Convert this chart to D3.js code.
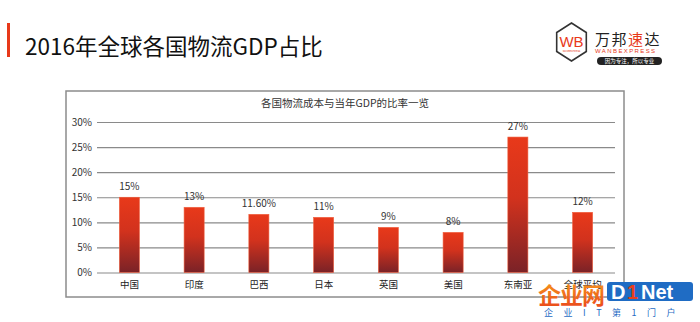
<!DOCTYPE html>
<html><head><meta charset="utf-8">
<script src="https://cdn.jsdelivr.net/npm/d3@7"></script>
<style>body{margin:0;background:#fff;}svg{display:block;font-family:"Noto Sans CJK SC","Noto Sans",sans-serif;}</style>
</head><body>
<svg id="c" width="700" height="322"></svg>
<script>
const categories = ["中国","印度","巴西","日本","英国","美国","东南亚","全球平均"];
const values = [15,13,11.6,11,9,8,27,12];
const valueLabels = ["15%","13%","11.60%","11%","9%","8%","27%","12%"];
const yTicks = [0,5,10,15,20,25,30];
const tickLabels = ["0%","5%","10%","15%","20%","25%","30%"];

const svg = d3.select("#c");
const defs = svg.append("defs");
const g1 = defs.append("linearGradient").attr("id","bar").attr("x1",0).attr("y1",0).attr("x2",0).attr("y2",1);
g1.append("stop").attr("offset","0%").attr("stop-color","#e8391a");
g1.append("stop").attr("offset","45%").attr("stop-color","#d2321d");
g1.append("stop").attr("offset","100%").attr("stop-color","#7a2227");
const g2 = defs.append("linearGradient").attr("id","wm").attr("x1",0).attr("y1",0).attr("x2",0).attr("y2",1);
g2.append("stop").attr("offset","0%").attr("stop-color","#f7a21b");
g2.append("stop").attr("offset","100%").attr("stop-color","#e9401c");

// header
svg.append("rect").attr("x",7).attr("y",23).attr("width",3).attr("height",34).attr("fill","#e8391a");
svg.append("text").attr("x",25).attr("y",55).attr("font-size",22.5).attr("fill","#111").text("2016年全球各国物流GDP占比");

// logo
const hx=571.5, hy=42, hr=19;
const hex = d3.range(6).map(i=>{const a=Math.PI/6+i*Math.PI/3;return [hx+hr*Math.cos(a)*0.9, hy+hr*Math.sin(a)];});
svg.append("polygon").attr("points",hex.map(p=>p.join(",")).join(" ")).attr("fill","#fff").attr("stroke","#333").attr("stroke-width",1.6);
svg.append("text").attr("x",hx).attr("y",hy+5).attr("text-anchor","middle").attr("font-size",15).attr("fill","#e8391a").attr("font-family","Liberation Sans").text("WB");
svg.append("text").attr("x",hx).attr("y",hy+10).attr("text-anchor","middle").attr("font-size",2.5).attr("fill","#e8391a").text("WANBEXPRESS");
const lt = svg.append("text").attr("x",595).attr("y",45).attr("font-size",15).attr("fill","#222").attr("letter-spacing",1.5);
lt.append("tspan").text("万邦");
lt.append("tspan").attr("fill","#e8391a").text("速");
lt.append("tspan").text("达");
svg.append("text").attr("x",595).attr("y",53).attr("font-size",6).attr("fill","#e8391a").attr("letter-spacing",1.4).attr("font-family","Liberation Sans").text("WANBEXPRESS");
svg.append("rect").attr("x",597).attr("y",57).attr("width",65).attr("height",8).attr("rx",4).attr("fill","#222");
svg.append("text").attr("x",629.5).attr("y",63.3).attr("text-anchor","middle").attr("font-size",5.5).attr("fill","#fff").text("因为专注，所以专业");

// chart frame
svg.append("rect").attr("x",66).attr("y",91).attr("width",558).attr("height",206).attr("fill","#fff").attr("stroke","#8c8c8c").attr("stroke-width",1.5);
svg.append("text").attr("x",345).attr("y",107).attr("text-anchor","middle").attr("font-size",10.5).attr("fill","#333").text("各国物流成本与当年GDP的比率一览");

const x = d3.scaleBand().domain(categories).range([97,615]).paddingInner(0.69).paddingOuter(0.345);
const y = d3.scaleLinear().domain([0,30]).range([272.5,122]);

const yAxis = svg.append("g").attr("transform","translate(97,0)")
  .call(d3.axisLeft(y).tickValues(yTicks).tickSize(-518).tickFormat((d,i)=>tickLabels[i]));
yAxis.select(".domain").remove();
yAxis.selectAll(".tick line").attr("stroke","#8a8a8a").attr("stroke-width",1.2);
yAxis.selectAll(".tick text").attr("x",-5).attr("font-size",10).attr("fill","#333").attr("font-family","Noto Sans CJK SC");

svg.append("g").selectAll("rect").data(values).join("rect")
  .attr("x",(d,i)=>x(categories[i])).attr("width",x.bandwidth())
  .attr("y",d=>y(d)).attr("height",d=>y(0)-y(d))
  .attr("fill","url(#bar)").attr("stroke","#f0603f").attr("stroke-width",0.6);

svg.append("g").selectAll("text").data(values).join("text")
  .attr("x",(d,i)=>x(categories[i])+x.bandwidth()/2).attr("y",d=>y(d)-7)
  .attr("text-anchor","middle").attr("font-size",10).attr("fill","#333").text((d,i)=>valueLabels[i]);

const xAxis = svg.append("g").attr("transform","translate(0,272.5)").call(d3.axisBottom(x).tickSize(0));
xAxis.select(".domain").remove();
xAxis.selectAll(".tick text").attr("dy",0).attr("y",15).attr("font-size",9.5).attr("fill","#222").attr("font-family","Noto Sans CJK SC");

// watermark
svg.append("text").attr("x",538).attr("y",304).attr("font-size",23).attr("font-weight","bold").attr("fill","url(#wm)").attr("letter-spacing",-1).text("企业网");
svg.append("rect").attr("x",607).attr("y",282).attr("width",86).attr("height",19).attr("rx",3).attr("fill","#1f6cc4");
svg.append("text").attr("x",611).attr("y",299).attr("font-size",20).attr("font-weight","bold").attr("fill","#fff").attr("font-family","Liberation Sans").text("D");
svg.append("text").attr("x",627).attr("y",299).attr("font-size",20).attr("font-weight","bold").attr("fill","#e9401c").attr("font-family","Liberation Sans").text("1");
svg.append("text").attr("x",641).attr("y",299).attr("font-size",20).attr("font-weight","bold").attr("fill","#fff").attr("font-family","Liberation Sans").text("Net");
svg.append("text").attr("x",544).attr("y",316).attr("font-size",9).attr("fill","#1f6cc4").attr("letter-spacing",10.5).text("企业IT第1门户");
</script>
</body></html>
